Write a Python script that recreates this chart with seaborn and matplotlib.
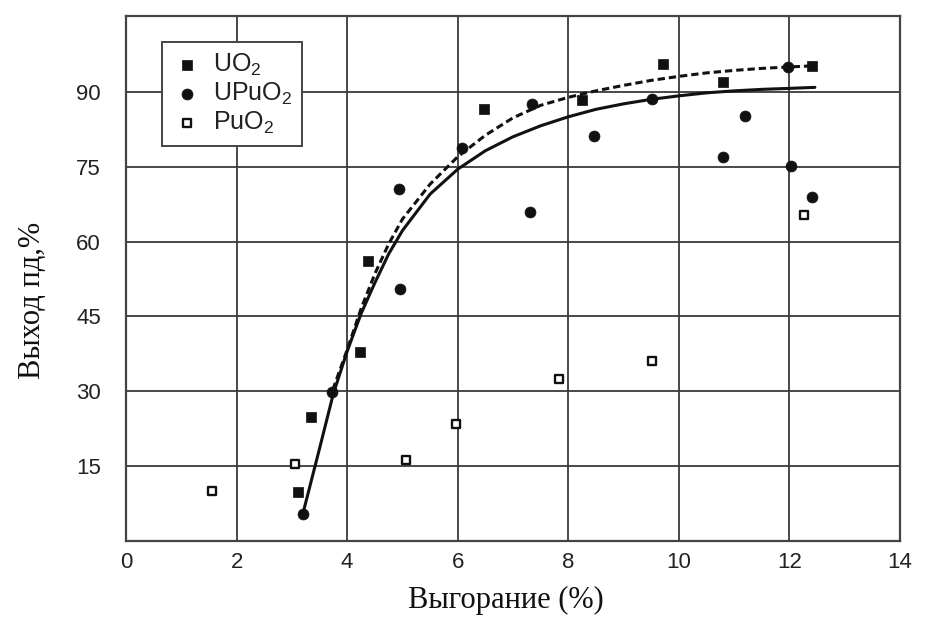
import matplotlib
matplotlib.use("Agg")
import matplotlib.pyplot as plt
import seaborn as sns

# ---- data ----
uo2_x = [3.11, 3.35, 4.23, 4.37, 6.47, 8.25, 9.71, 10.80, 12.41]
uo2_y = [9.8, 24.9, 37.9, 56.1, 86.6, 88.4, 95.6, 92.0, 95.2]

upuo2_x = [3.20, 3.72, 4.96, 4.94, 6.08, 7.31, 7.34, 8.46, 9.51, 10.80, 11.20, 11.97, 12.03, 12.41]
upuo2_y = [5.5, 29.9, 50.5, 70.6, 78.7, 65.9, 87.6, 81.2, 88.6, 77.0, 85.2, 95.0, 75.2, 69.0]

puo2_x = [1.56, 3.06, 5.06, 5.96, 7.83, 9.51, 12.26]
puo2_y = [10.0, 15.4, 16.2, 23.5, 32.5, 36.1, 65.3]

solid_x = [3.20, 3.50, 3.75, 4.00, 4.25, 4.50, 4.75, 5.00, 5.50, 6.00, 6.50, 7.00,
           7.50, 8.00, 8.50, 9.00, 9.50, 10.00, 10.50, 11.00, 11.50, 12.00, 12.46]
solid_y = [5.5, 18.5, 29.5, 38.0, 45.5, 51.7, 57.5, 62.2, 69.5, 74.5, 78.2, 81.0,
           83.2, 85.0, 86.5, 87.6, 88.5, 89.2, 89.8, 90.2, 90.5, 90.7, 90.9]

dash_x = [3.74, 4.00, 4.25, 4.50, 4.75, 5.00, 5.50, 6.00, 6.50, 7.00, 7.50, 8.00,
          8.50, 9.00, 9.50, 10.00, 10.50, 11.00, 11.50, 12.00, 12.41]
dash_y = [30.3, 38.3, 46.5, 53.5, 59.5, 64.5, 71.5, 77.0, 81.3, 84.8, 87.3, 88.9,
          90.2, 91.3, 92.3, 93.1, 93.8, 94.3, 94.7, 95.0, 95.2]

x_ticks = [0, 2, 4, 6, 8, 10, 12, 14]
y_ticks = [15, 30, 45, 60, 75, 90]
legend_labels = ["UO$_2$", "UPuO$_2$", "PuO$_2$"]
x_label = "Выгорание (%)"
y_label = "Выход пд,%"

# ---- style ----
sns.set_style("white")
plt.rcParams["font.family"] = ["Liberation Sans", "DejaVu Sans"]
plt.rcParams["mathtext.default"] = "regular"

W, H = 925, 622
fig = plt.figure(figsize=(W / 100, H / 100), dpi=100)
ax = fig.add_axes([126 / W, (H - 541) / H, 774 / W, 525 / H])

ink = "#111111"
grid_c = "#3a3a3a"

sns.lineplot(x=solid_x, y=solid_y, ax=ax, color=ink, linewidth=2.2,
             sort=False, estimator=None, zorder=2)
sns.lineplot(x=dash_x, y=dash_y, ax=ax, color=ink, linewidth=2.2,
             linestyle=(0, (2.4, 1.3)), sort=False, estimator=None, zorder=2)

sns.scatterplot(x=uo2_x, y=uo2_y, ax=ax, marker="s", s=42, color=ink,
                edgecolor=ink, linewidth=0.5, label=legend_labels[0], zorder=3)
sns.scatterplot(x=upuo2_x, y=upuo2_y, ax=ax, marker="o", s=62, color=ink,
                edgecolor=ink, linewidth=0.5, label=legend_labels[1], zorder=3)
sns.scatterplot(x=puo2_x, y=puo2_y, ax=ax, marker="s", s=38, facecolor="white",
                edgecolor=ink, linewidth=1.7, label=legend_labels[2], zorder=3)

ax.set_xlim(0, 14)
ax.set_ylim(0, 105.2)
ax.set_xticks(x_ticks)
ax.set_yticks(y_ticks)
ax.set_xticklabels([str(v) for v in x_ticks])
ax.set_yticklabels([str(v) for v in y_ticks])
ax.grid(True, color=grid_c, linewidth=1.3)
ax.set_axisbelow(True)
for sp in ax.spines.values():
    sp.set_color("#444444")
    sp.set_linewidth(1.6)

ax.tick_params(axis="both", length=0, labelsize=16, labelcolor="#222222")
ax.tick_params(axis="x", pad=8)
ax.tick_params(axis="y", pad=18)

ax.set_xlabel(x_label, family="Liberation Serif", fontsize=22, color=ink)
ax.set_ylabel(y_label, family="Liberation Serif", fontsize=22, color=ink)
ax.xaxis.set_label_coords((506 - 126) / 774, (541 - 586) / 525)
ax.yaxis.set_label_coords((47 - 126) / 774, (541 - 300) / 525)

leg = ax.legend(loc="upper left",
                bbox_to_anchor=((162 - 126) / 774, (541 - 42) / 525),
                frameon=True, fancybox=False, framealpha=1, edgecolor="#444444",
                fontsize=18, handletextpad=0.45, borderpad=0.4, labelspacing=0.1,
                handlelength=1.2, borderaxespad=0)
leg.get_frame().set_linewidth(1.4)
for t in leg.get_texts():
    t.set_color("#222222")

fig.savefig("out.png", dpi=100)
